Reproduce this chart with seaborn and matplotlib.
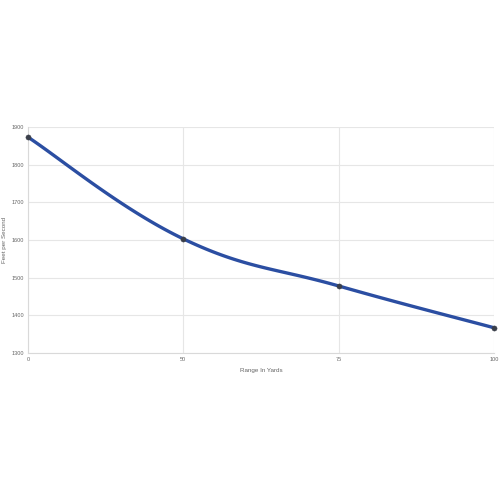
import numpy as np
import pandas as pd
import seaborn as sns
import matplotlib.pyplot as plt

ranges = ["0", "50", "75", "100"]
velocity = [1873, 1603, 1478, 1367]

df = pd.DataFrame({"pos": np.arange(len(ranges)), "fps": velocity})

# smooth the drawn line (cardinal spline through the data points, tension like chart.js)
def smooth(x, y, tension=0.4, n=40):
    x = np.asarray(x, float)
    y = np.asarray(y, float)
    xs, ys = [], []
    for i in range(len(x) - 1):
        p0 = np.array([x[i], y[i]])
        p3 = np.array([x[i + 1], y[i + 1]])
        prev = np.array([x[i - 1], y[i - 1]]) if i > 0 else p0
        nxt = np.array([x[i + 2], y[i + 2]]) if i + 2 < len(x) else p3
        p1 = p0 + (p3 - prev) * tension / 2
        p2 = p3 - (nxt - p0) * tension / 2
        t = np.linspace(0, 1, n)[:, None]
        pts = ((1 - t) ** 3) * p0 + 3 * ((1 - t) ** 2) * t * p1 + 3 * (1 - t) * t ** 2 * p2 + t ** 3 * p3
        xs.extend(pts[:, 0])
        ys.extend(pts[:, 1])
    return pd.DataFrame({"pos": xs, "fps": ys})

curve = smooth(df["pos"], df["fps"])

sns.set_style("white")
plt.rcParams["font.family"] = ["Liberation Sans", "DejaVu Sans"]
fig = plt.figure(figsize=(5, 5), dpi=100)
ax = fig.add_axes([0.056, 0.294, 0.932, 0.452])

sns.lineplot(data=curve, x="pos", y="fps", color="#2b4ea2", linewidth=2.4, ax=ax, sort=False, zorder=3)
sns.scatterplot(data=df, x="pos", y="fps", color="#3a3f4a", s=14, edgecolor="#3a3f4a", ax=ax, zorder=4, clip_on=False)

ax.set_xlim(0, 3)
ax.set_ylim(1300, 1900)
ax.set_xticks(range(len(ranges)))
ax.set_xticklabels(ranges)
ax.set_yticks(range(1300, 1901, 100))
ax.grid(True, color="#e6e6e6", linewidth=0.8)
ax.set_axisbelow(True)
for s in ["top", "right"]:
    ax.spines[s].set_visible(False)
for s in ["left", "bottom"]:
    ax.spines[s].set_color("#d9d9d9")
    ax.spines[s].set_linewidth(0.8)
ax.tick_params(axis="both", labelsize=4, colors="#666666", length=0, pad=3)
ax.set_xlabel("Range In Yards", fontsize=4.5, color="#666666", labelpad=4)
ax.set_ylabel("Feet per Second", fontsize=4.5, color="#666666")
ax.yaxis.set_label_coords(-0.045, 0.5)

fig.savefig("out.png", dpi=100, facecolor="white")
